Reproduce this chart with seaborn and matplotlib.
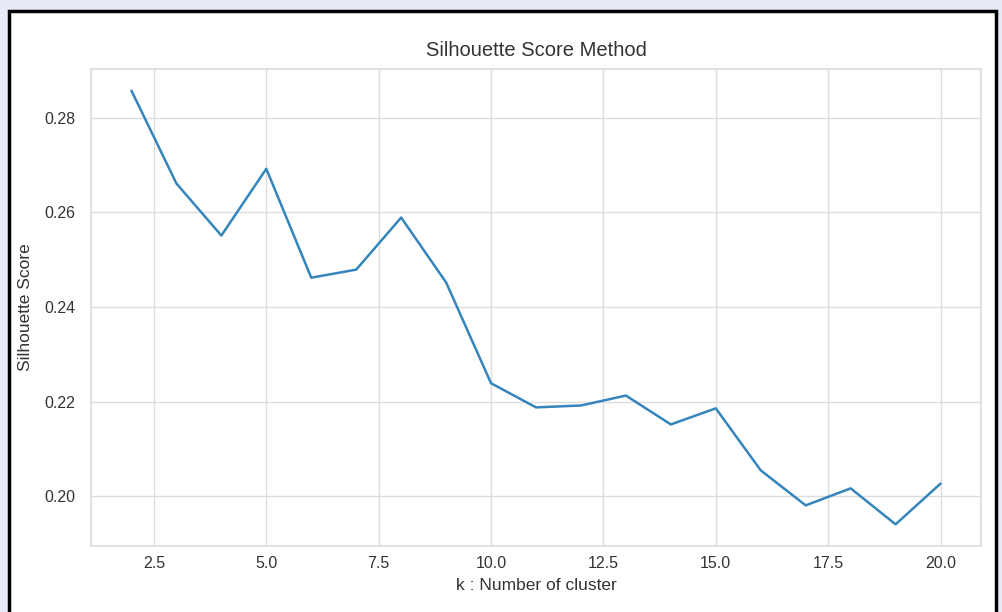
import matplotlib
matplotlib.use("Agg")
import matplotlib.pyplot as plt
from matplotlib.patches import Rectangle
import pandas as pd
import seaborn as sns

# silhouette scores
k_values = [2, 3, 4, 5, 6, 7, 8, 9, 10, 11, 12, 13, 14, 15, 16, 17, 18, 19, 20]
scores = [0.2857, 0.2661, 0.2551, 0.2692, 0.2462, 0.2479, 0.2589, 0.2452, 0.2239,
          0.2188, 0.2192, 0.2213, 0.2152, 0.2186, 0.2055, 0.1981, 0.2017, 0.1941, 0.2027]

df = pd.DataFrame({"k": k_values, "score": scores})

sns.set_theme(style="whitegrid")
plt.rcParams["font.family"] = ["Liberation Sans", "DejaVu Sans"]
plt.rcParams["axes.edgecolor"] = "#dddddd"
plt.rcParams["grid.color"] = "#dddddd"

fig = plt.figure(figsize=(10.03, 6.12), dpi=100)
fig.patch.set_facecolor("#e6ebf5")

# white card with black frame (screenshot look), kept behind the axes
fig.patches.append(Rectangle((9.5 / 1003, -0.05), (996 - 9.5) / 1003, 1.05 - 10.5 / 612,
                             transform=fig.transFigure, facecolor="white",
                             edgecolor="black", linewidth=2.5, zorder=-10))

ax = fig.add_axes([91 / 1003, 1 - 546 / 612, (981 - 91) / 1003, (546 - 69) / 612])
sns.lineplot(data=df, x="k", y="score", ax=ax, color="#3585bd", linewidth=1.8)

ax.set_title("Silhouette Score Method", fontsize=14.5, color="#333333", pad=9)
ax.set_xlabel("k : Number of cluster", fontsize=12.5, color="#333333", labelpad=5)
ax.set_ylabel("Silhouette Score", fontsize=12.5, color="#333333", labelpad=8)
ax.tick_params(labelsize=11.5, colors="#333333", length=0)
ax.tick_params(axis="x", pad=7)
ax.tick_params(axis="y", pad=11)
ax.set_yticks([0.20, 0.22, 0.24, 0.26, 0.28])
ax.set_xticks([2.5, 5.0, 7.5, 10.0, 12.5, 15.0, 17.5, 20.0])
for s in ax.spines.values():
    s.set_color("#dddddd")

fig.savefig("out.png", dpi=100, facecolor=fig.get_facecolor())
